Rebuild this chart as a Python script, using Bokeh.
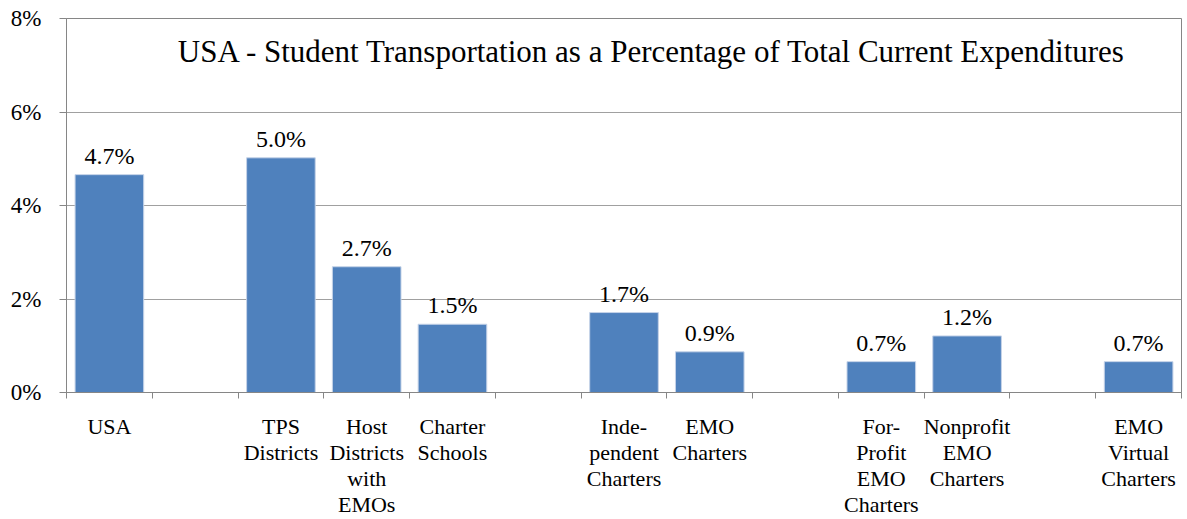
from bokeh.plotting import figure
from bokeh.models import (ColumnDataSource, Range1d, FixedTicker, Label,
                          PrintfTickFormatter)
from bokeh.embed import file_html
from bokeh.resources import INLINE

categories = ["USA", "", "TPS\nDistricts", "Host\nDistricts\nwith\nEMOs", "Charter\nSchools", "",
              "Inde-\npendent\nCharters", "EMO\nCharters", "",
              "For-\nProfit\nEMO\nCharters", "Nonprofit\nEMO\nCharters", "", "EMO\nVirtual\nCharters"]
values = [4.66, None, 5.02, 2.69, 1.46, None, 1.71, 0.87, None, 0.66, 1.21, None, 0.66]
value_labels = ["4.7%", "", "5.0%", "2.7%", "1.5%", "", "1.7%", "0.9%", "", "0.7%", "1.2%", "", "0.7%"]
title_text = "USA - Student Transportation as a Percentage of Total Current Expenditures"
y_ticks = [0, 2, 4, 6, 8]

FONT = "'Liberation Serif'"

idx = [i for i, v in enumerate(values) if v is not None]
src = ColumnDataSource(dict(
    x=[i + 0.5 for i in idx],
    top=[values[i] for i in idx],
    lab=[value_labels[i] for i in idx],
))

n = len(categories)
p = figure(width=1187, height=519, output_backend="svg", toolbar_location=None,
           x_range=Range1d(0, n), y_range=Range1d(0, 8),
           min_border_left=66, min_border_right=6, min_border_top=18, min_border_bottom=126)

p.vbar(x="x", top="top", width=0.8, source=src, fill_color="#4F81BD",
       line_color="#c5d3e8", line_width=1)

# value labels: white box behind (breaks the gridline), then the text itself
for xi, ti, li in zip(src.data["x"], src.data["top"], src.data["lab"]):
    p.add_layout(Label(x=xi, y=ti, text=li, text_align="center",
                       text_baseline="bottom", y_offset=6, text_font=FONT,
                       text_font_size="24px", text_alpha=0,
                       background_fill_color="white", padding=4))
    p.add_layout(Label(x=xi, y=ti, text=li, text_align="center",
                       text_baseline="bottom", y_offset=6, text_font=FONT,
                       text_font_size="24px", text_color="black"))

# title
p.add_layout(Label(x=6.83, y=7.3, text=title_text, text_align="center",
                   text_baseline="middle", text_font=FONT, text_font_size="31px",
                   text_color="black"))

# x axis
p.xaxis.ticker = FixedTicker(ticks=[i + 0.5 for i in range(n)], minor_ticks=list(range(n + 1)))
p.xaxis.major_label_overrides = {i + 0.5: categories[i] for i in range(n)}
p.xaxis.major_tick_out = 0
p.xaxis.major_tick_in = 0
p.xaxis.minor_tick_out = 6
p.xaxis.minor_tick_in = 0
p.xaxis.minor_tick_line_color = "#868686"
p.xaxis.axis_line_color = "#868686"
p.xaxis.major_label_text_font = FONT
p.xaxis.major_label_text_font_size = "22px"
p.xaxis.major_label_text_color = "black"
p.xaxis.major_label_standoff = 15
p.xaxis.major_label_text_line_height = 1.04

# y axis
p.yaxis.ticker = FixedTicker(ticks=y_ticks)
p.yaxis.formatter = PrintfTickFormatter(format="%d%%")
p.yaxis.major_tick_out = 7
p.yaxis.major_tick_in = 0
p.yaxis.minor_tick_out = 0
p.yaxis.minor_tick_in = 0
p.yaxis.major_tick_line_color = "#868686"
p.yaxis.axis_line_color = "#868686"
p.yaxis.major_label_text_font = FONT
p.yaxis.major_label_text_font_size = "23px"
p.yaxis.major_label_text_color = "black"
p.yaxis.major_label_standoff = 18

p.xgrid.visible = False
p.ygrid.ticker = FixedTicker(ticks=[2, 4, 6])
p.ygrid.grid_line_color = "#a0a0a0"
p.outline_line_color = "#868686"
p.outline_line_width = 1
p.background_fill_color = "white"
p.border_fill_color = "white"

open("out.html", "w").write(file_html(p, INLINE))
